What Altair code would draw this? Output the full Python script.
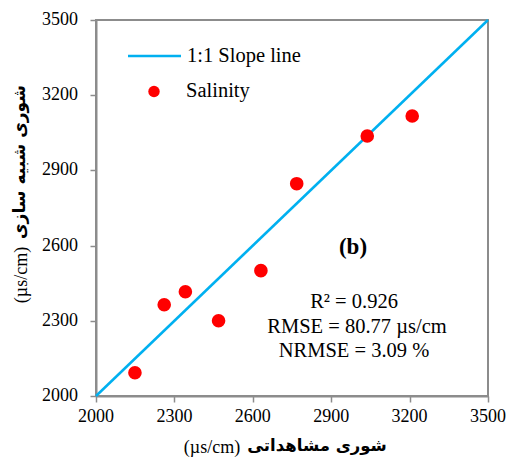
import altair as alt
import pandas as pd

# Observed vs simulated salinity (µs/cm)
observed = [2149, 2261, 2342, 2469, 2631, 2768, 3038, 3210]
simulated = [2093, 2364, 2416, 2300, 2500, 2847, 3037, 3117]
ticks = [2000, 2300, 2600, 2900, 3200, 3500]
line_ends = [2000, 3500]

pts = pd.DataFrame({"obs": observed, "sim": simulated})
ref = pd.DataFrame({"obs": line_ends, "sim": line_ends})
tick_df = pd.DataFrame({"v": ticks, "lab": [str(t) for t in ticks]})

SERIF = "Times New Roman, Liberation Serif, serif"
GRAY = "#8c8c8c"
CYAN = "#00b0f0"

xscale = alt.Scale(domain=[2000, 3500], nice=False, zero=False)
yscale = alt.Scale(domain=[2000, 3500], nice=False, zero=False)

axis_style = dict(
    grid=False, title=None, labels=False, domainColor=GRAY, domainWidth=2,
    tickColor=GRAY, tickWidth=1.5, tickSize=6,
)
xaxis = alt.Axis(values=ticks, **axis_style)
yaxis = alt.Axis(values=ticks, **axis_style)

line = alt.Chart(ref).mark_line(color=CYAN, strokeWidth=2.5).encode(
    x=alt.X("obs:Q", scale=xscale, axis=xaxis),
    y=alt.Y("sim:Q", scale=yscale, axis=yaxis),
)

dots = alt.Chart(pts).mark_circle(color="#ff0000", size=185, opacity=1).encode(
    x=alt.X("obs:Q", scale=xscale, axis=xaxis),
    y=alt.Y("sim:Q", scale=yscale, axis=yaxis),
)

# tick labels placed through the same scales
xlabels = alt.Chart(tick_df).mark_text(
    font=SERIF, fontSize=18, color="black", align="center", baseline="middle"
).encode(x=alt.X("v:Q", scale=xscale, axis=xaxis), y=alt.value(397), text="lab:N")

ylabels = alt.Chart(tick_df).mark_text(
    font=SERIF, fontSize=18, color="black", align="right", baseline="middle"
).encode(y=alt.Y("v:Q", scale=yscale, axis=yaxis), x=alt.value(-18), text="lab:N")

one = pd.DataFrame({"k": [0]})

def label(text, x, y, size=20.5, weight="normal", align="left", angle=0, font=SERIF):
    return alt.Chart(one).mark_text(
        text=text, font=font, fontSize=size, fontWeight=weight, align=align,
        baseline="middle", angle=angle, color="black",
    ).encode(x=alt.value(x), y=alt.value(y))

# legend
leg_line = alt.Chart(one).mark_rule(color=CYAN, strokeWidth=2.5).encode(
    x=alt.value(32), x2=alt.value(85), y=alt.value(36))
leg_dot = alt.Chart(one).mark_point(filled=True, shape="circle", color="#ff0000", size=130, opacity=1).encode(
    x=alt.value(58), y=alt.value(71.5))

layers = [
    line, dots, xlabels, ylabels, leg_line, leg_dot,
    label("1:1 Slope line", 91, 36),
    label("Salinity", 90, 71),
    label("(b)", 257, 227, size=23, weight="bold", align="center"),
    label("R\u00b2 = 0.926", 258, 282, align="center"),
    label("RMSE = 80.77 \u00b5s/cm", 261, 307, align="center"),
    label("NRMSE = 3.09 %", 258, 331, align="center"),
    # x-axis title
    label("(\u00b5s/cm)", 116, 428, size=18, align="center"),
    label("شوری مشاهداتی", 221, 426, size=16.5, weight="bold", align="center", font="DejaVu Sans"),
    # y-axis title
    label("(\u00b5s/cm)", -74, 255, size=18, align="center", angle=270),
    label("شوری شبیه سازی", -76, 142, size=17, weight="bold", align="center", angle=270, font="DejaVu Sans"),
]

chart = alt.layer(*layers).properties(
    width=392, height=376,
    autosize=alt.AutoSizeParams(type="none"),
    padding={"left": 96, "top": 20, "right": 19, "bottom": 62},
    background="white",
).configure_view(
    stroke=GRAY, strokeWidth=2
)

chart.save("out.html", embed_options={"renderer": "svg", "actions": False})
